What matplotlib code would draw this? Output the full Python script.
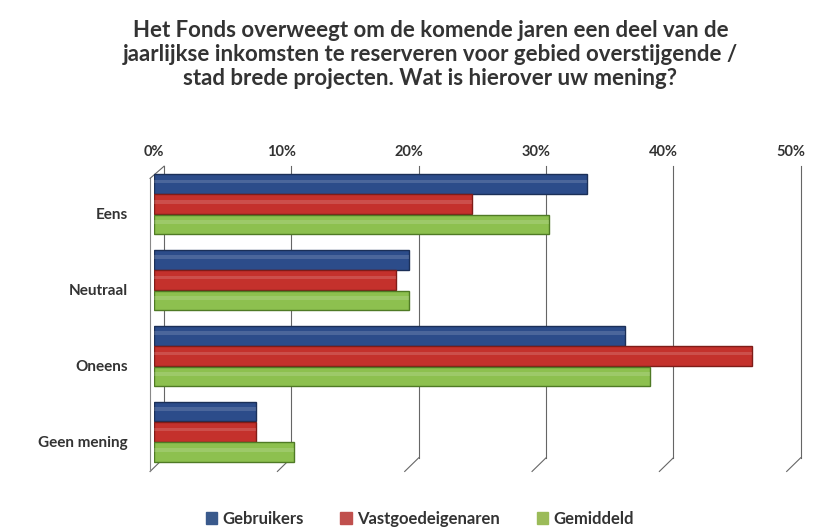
import matplotlib
matplotlib.use("Agg")
import matplotlib.pyplot as plt
import numpy as np

categories = ["Eens", "Neutraal", "Oneens", "Geen mening"]
series_names = ["Gebruikers", "Vastgoedeigenaren", "Gemiddeld"]
gebruikers = [34, 20, 37, 8]
vastgoedeigenaren = [25, 19, 47, 8]
gemiddeld = [31, 20, 39, 11]
xticks = [0, 10, 20, 30, 40, 50]
xticklabels = ["0%", "10%", "20%", "30%", "40%", "50%"]
title = ("Het Fonds overweegt om de komende jaren een deel van de\n"
         "jaarlijkse inkomsten te reserveren voor gebied overstijgende /\n"
         "stad brede projecten. Wat is hierover uw mening?")

bar_colors = ["#2C4C8A", "#C4312C", "#8DC04F"]
edge_colors = ["#1B2F57", "#7E1C18", "#4F7A25"]
legend_colors = ["#3A5A8C", "#C0504D", "#9BBB59"]

plt.rcParams['font.family'] = ['Lato', 'DejaVu Sans']
fig = plt.figure(figsize=(8.23, 5.31), dpi=100)
ax = fig.add_axes([0.187, 0.115, 0.7735, 0.572])

y = np.arange(len(categories))
h = 0.268
data = [gebruikers, vastgoedeigenaren, gemiddeld]
offsets = [-h, 0, h]
for vals, off, c, ec, name in zip(data, offsets, bar_colors, edge_colors, series_names):
    ax.barh(y + off, vals, height=h * 0.97, color=c, edgecolor=ec, linewidth=1.0, zorder=3)
    # highlight stripe to suggest cylinder
    ax.barh(y + off - h * 0.12, vals, height=h * 0.18, color="white", alpha=0.15,
            linewidth=0, zorder=4)

ax.set_xlim(0, 50)
ax.set_ylim(len(categories) - 0.5, -0.5)

# back-wall gridlines with 3D floor slant
tr = ax.get_xaxis_transform()
shift = 0.8
gc = "#666666"
for v in xticks:
    ax.plot([v + shift, v + shift], [1.0, 0.04], color=gc, lw=0.8, transform=tr,
            clip_on=False, zorder=1)
    ax.plot([v + shift, v - 0.3], [0.04, -0.005], color=gc, lw=0.8, transform=tr,
            clip_on=False, zorder=1)
# side wall front edge
ax.plot([-0.3, -0.3], [0.96, -0.005], color="#888888", lw=0.8, transform=tr, clip_on=False, zorder=1)
ax.plot([shift, -0.3], [1.0, 0.96], color=gc, lw=0.8, transform=tr, clip_on=False, zorder=1)

for s in ax.spines.values():
    s.set_visible(False)
ax.xaxis.set_ticks_position("top")
ax.set_xticks(xticks)
ax.set_xticklabels(xticklabels, fontsize=10.5, fontweight="bold", color="#333333")
ax.tick_params(axis="x", length=0, pad=5)
ax.set_yticks(y + 0.12)
ax.set_yticklabels(categories, fontsize=11, fontweight="bold", color="#333333")
ax.tick_params(axis="y", length=0, pad=19)

fig.text(0.523, 0.963, title, ha="center", va="top", fontsize=16, fontweight="bold",
         color="#333333", linespacing=1.2)

handles = [plt.Rectangle((0, 0), 1, 1, color=c) for c in legend_colors]
fig.legend(handles, series_names, loc="lower center", bbox_to_anchor=(0.51, -0.02), ncol=3,
           frameon=False, handlelength=0.7, handleheight=0.7,
           handletextpad=0.3, columnspacing=2.2, prop={"weight": "bold", "size": 12})
for t in fig.legends[0].get_texts():
    t.set_color("#333333")

fig.savefig("out.png", dpi=100)
